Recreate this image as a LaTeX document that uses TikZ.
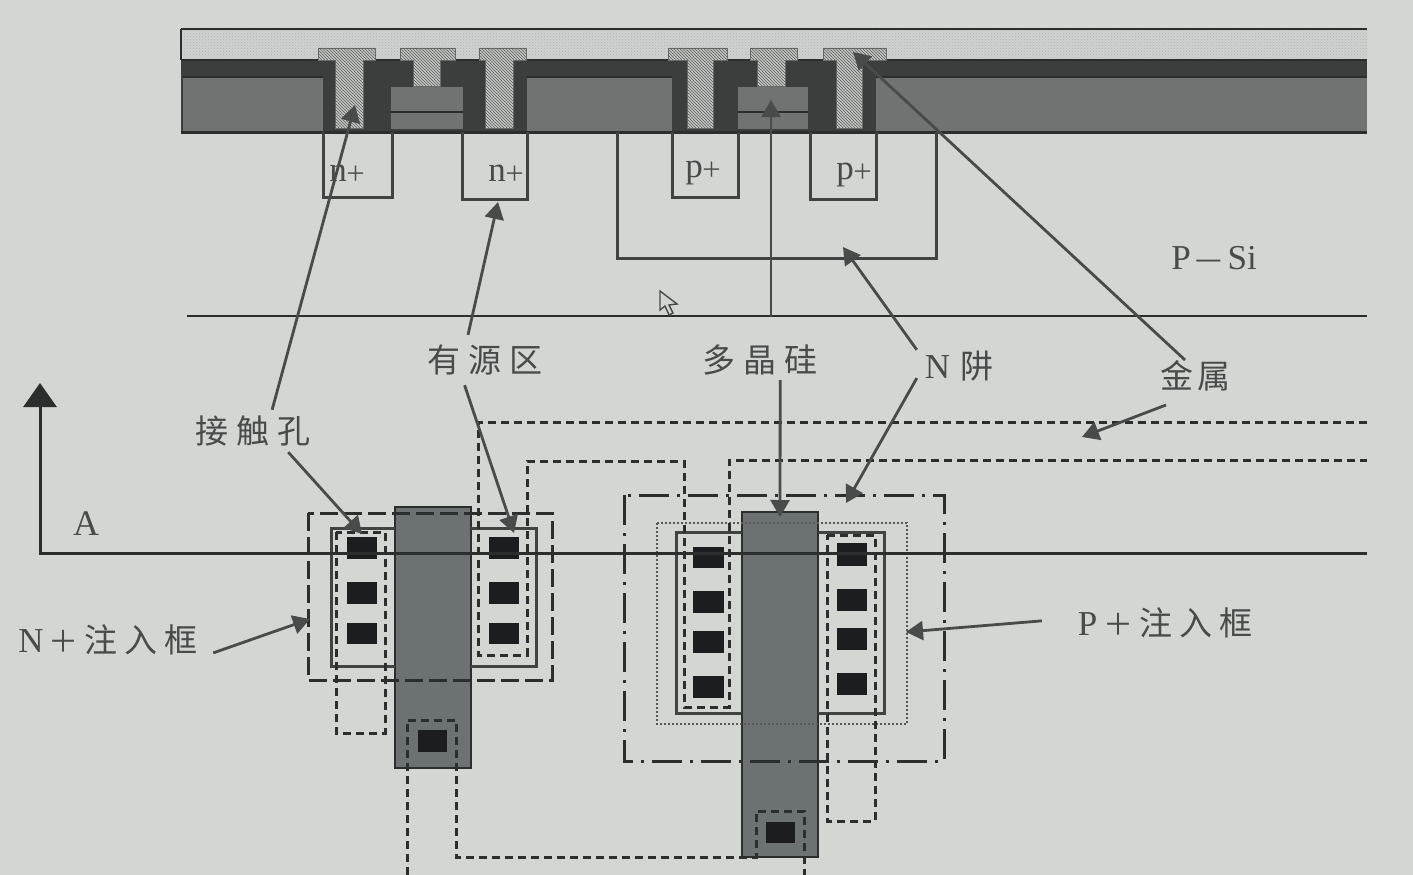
\documentclass[tikz,border=0pt]{standalone}
\usepackage{fontspec}
\setmainfont{Liberation Serif}
\newfontfamily\cjk{Noto Sans CJK SC}
\usepackage{tikz}
\usetikzlibrary{arrows.meta,patterns}
\definecolor{paper}{HTML}{D2D7D4}
\definecolor{ink}{HTML}{2A2E2D}
\definecolor{oxide}{HTML}{3A3F3E}
\definecolor{field}{HTML}{6F7473}
\definecolor{gatepoly}{HTML}{6C7171}
\definecolor{toplayer}{HTML}{CFD2D0}
\definecolor{metal}{HTML}{C6C9C6}
\definecolor{contact}{HTML}{1B1D1E}
\definecolor{labelgray}{HTML}{474B4A}
\newcommand{\hanzi}[1]{{\cjk\fontsize{33}{33}\selectfont #1}}
\newcommand{\latin}[1]{{\fontsize{35}{35}\selectfont #1}}
\newcommand{\wideplus}{{\cjk\fontsize{30}{30}\selectfont ＋}}
\newcommand{\smallplus}{{\cjk\fontsize{21}{21}\selectfont ＋}}

\begin{document}
\begin{tikzpicture}[x=1pt, y=-1pt, >={Triangle[length=17pt,width=19pt]}, line join=miter]
\tikzstyle{lbl}=[text=labelgray, inner sep=0pt, anchor=center]
\tikzstyle{sect}=[draw=ink, line width=2.6pt]
\tikzstyle{wellbox}=[draw=ink!90, line width=3pt]
\tikzstyle{pointer}=[draw=labelgray, line width=2.8pt, ->]
\tikzstyle{plug}=[fill=metal, draw=ink!70, line width=0.8pt, postaction={pattern=north west lines, pattern color=ink!80}]
\tikzstyle{hole}=[fill=contact]
\tikzstyle{activeframe}=[draw=ink, line width=3pt, dash pattern=on 8pt off 5pt]
\tikzstyle{nframe}=[draw=ink, line width=3pt, dash pattern=on 18pt off 6pt]
\tikzstyle{wellframe}=[draw=ink, line width=3pt, dash pattern=on 30pt off 8pt on 3pt off 8pt]
\tikzstyle{pframe}=[draw=ink!80, line width=2pt, dash pattern=on 2pt off 2pt]

\fill[paper] (0,0) rectangle (1413,875);
\useasboundingbox (0,0) rectangle (1413,875);

\path[fill=toplayer, postaction={pattern=crosshatch dots, pattern color=ink!35}] (181,29) rectangle (1367,60);
\draw[sect] (181,29) -- (1367,29);
\draw[sect] (181,29) -- (181,60);
\fill[oxide] (181,60) rectangle (1367,132);
\fill[field] (183,77) rectangle (323,131);
\fill[field] (527,77) rectangle (672,131);
\fill[field] (876,77) rectangle (1367,131);
\draw[draw=ink, line width=3pt] (181,132) -- (1367,132);
\draw[draw=ink, line width=2.6pt] (181,60) -- (1367,60);
\draw[draw=ink, line width=2.6pt] (183,77) -- (323,77);
\draw[draw=ink, line width=2.6pt] (527,77) -- (672,77);
\draw[draw=ink, line width=2.6pt] (876,77) -- (1367,77);

\foreach \x/\w/\y/\z in {391/463/87/129, 738/808/87/129}
    \fill[field] (\x,\y) rectangle (\w,\z);
\draw[ink, line width=2.6pt] (391,112) -- (463,112);
\draw[ink, line width=2.6pt] (738,112) -- (808,112);

\foreach \a/\b/\c/\d/\e in {318/375/335/363/128, 400/455/413/440/86, 479/526/485/513/128, 668/727/687/713/128, 750/797/757/785/86, 823/886/836/862/128}
    \path[plug] (\a,48) -- (\b,48) -- (\b,60) -- (\d,60) -- (\d,\e) -- (\c,\e) -- (\c,60) -- (\a,60) -- cycle;

\draw[wellbox] (323,132) -- (323,197) -- (392,197) -- (392,132);
\draw[wellbox] (462,132) -- (462,199) -- (527,199) -- (527,132);
\draw[wellbox] (672,132) -- (672,197) -- (738,197) -- (738,132);
\draw[wellbox] (810,132) -- (810,199) -- (876,199) -- (876,132);
\draw[wellbox] (617,132) -- (617,258) -- (936,258) -- (936,132);

\node[lbl] (nleft)  at (348,173) {\latin{n\kern-1pt\smallplus}};
\node[lbl] (nright) at (507,173) {\latin{n\kern-1pt\smallplus}};
\node[lbl] (pleft)  at (704,173) {\latin{p\kern-1pt\smallplus}};
\node[lbl] (pright) at (855,175) {\latin{p\kern-1pt\smallplus}};
\node[lbl] (psi)    at (1214,258) {\latin{P\kern5pt{\cjk\fontsize{30}{30}\selectfont —}\kern5pt Si}};

\draw[ink, line width=2.8pt] (187,316) -- (1367,316);
\draw[labelgray, line width=1.4pt] (660,291) -- (660,310) -- (665,306) -- (669,315) -- (673,313) -- (669,305) -- (677,304) -- cycle;

\fill[gatepoly] (395,507) rectangle (471,768);
\draw[ink, line width=2pt] (395,507) rectangle (471,768);
\fill[gatepoly] (742,512) rectangle (818,857);
\draw[ink, line width=2pt] (742,512) rectangle (818,857);

\draw[wellbox] (395,528) -- (331,528) -- (331,666) -- (395,666);
\draw[wellbox] (471,528) -- (536,528) -- (536,666) -- (471,666);
\draw[wellbox] (742,532) -- (676,532) -- (676,713) -- (742,713);
\draw[wellbox] (818,532) -- (884,532) -- (884,713) -- (818,713);

\draw[nframe] (308,513) rectangle (552,680);
\draw[wellframe] (624,495) rectangle (944,761);
\draw[pframe] (657,523) rectangle (907,724);

\draw[activeframe] (336,532) -- (336,733) -- (385,733) -- (385,532) -- cycle;
\draw[activeframe] (1367,422) -- (478,422) -- (478,655) -- (527,655) -- (527,461) -- (684,461) -- (684,707) -- (729,707) -- (729,460) -- (1367,460);
\draw[activeframe] (827,535) -- (875,535) -- (875,821) -- (827,821) -- cycle;
\draw[activeframe] (407,875) -- (407,720) -- (456,720) -- (456,857) -- (756,857) -- (756,811) -- (804,811) -- (804,875);

\foreach \y/\z in {537/559, 582/604, 623/644} {
    \fill[hole] (347,\y) rectangle (377,\z);
    \fill[hole] (489,\y) rectangle (519,\z);
}
\foreach \y/\z in {547/568, 591/613, 631/653, 676/698}
    \fill[hole] (693,\y) rectangle (724,\z);
\foreach \y/\z in {543/566, 589/611, 628/650, 673/695}
    \fill[hole] (837,\y) rectangle (867,\z);
\fill[hole] (418,730) rectangle (447,752);
\fill[hole] (766,822) rectangle (795,843);

\coordinate (sectend) at (1367,553);
\coordinate (sectcorner) at (40,553);
\coordinate (secttop) at (40,383);
\draw[draw=ink, line width=3pt, -{Triangle[length=24pt,width=33pt]}] (sectend) -- (sectcorner) -- (secttop);
\node[lbl] (sectA) at (86,524) {{\fontsize{36}{36}\selectfont A}};

\node[lbl, minimum width=116pt, minimum height=42pt] (lblhole)   at (253,431) {\hanzi{接\hspace{8pt}触\hspace{8pt}孔}};
\node[lbl, minimum width=116pt, minimum height=50pt] (lblactive) at (485,360) {\hanzi{有\hspace{8pt}源\hspace{8pt}区}};
\node[lbl, minimum width=116pt, minimum height=40pt] (lblpoly)   at (760,360) {\hanzi{多\hspace{8pt}晶\hspace{8pt}硅}};
\node[lbl, minimum width=84pt, minimum height=36pt]  (lblwell)   at (959,366) {{\latin{N}}\hspace{10pt}\hanzi{阱}};
\node[lbl, minimum width=74pt, minimum height=34pt]  (lblmetal)  at (1195,376) {\hanzi{金\hspace{4pt}属}};
\node[lbl, minimum width=210pt, minimum height=32pt] (lblnplus)  at (108,640) {{\latin{N}}\kern5pt\wideplus\kern6pt\hanzi{注\hspace{7pt}入\hspace{7pt}框}};
\node[lbl, minimum width=246pt, minimum height=32pt] (lblpplus)  at (1165,623) {{\latin{P}}\kern6pt\wideplus\kern6pt\hanzi{注\hspace{7pt}入\hspace{7pt}框}};

\coordinate (hitplug)   at (355,105);
\coordinate (hithole)   at (362,534);
\coordinate (hitnplus)  at (498,202);
\coordinate (hitactive) at (514,533);
\coordinate (polystart) at (771,317);
\coordinate (hitpoly)   at (771,100);
\coordinate (hitgate)   at (780,517);
\coordinate (hitwell)   at (843,247);
\coordinate (hitwellb)  at (846,503);
\coordinate (metalstart) at (1185,360);
\coordinate (hitmetal)  at (853,52);
\coordinate (metalfree) at (1166,405);
\coordinate (hitmetalb) at (1082,437);
\coordinate (hitnframe) at (310,619);
\coordinate (hitpframe) at (906,632);

\path
(lblhole.48)    edge[pointer] (hitplug)
(lblhole.-31)   edge[pointer] (hithole)
(lblactive.124) edge[pointer] (hitnplus)
(lblactive.231) edge[pointer] (hitactive)
(polystart)     edge[pointer] (hitpoly)
(lblpoly.-45)   edge[pointer] (hitgate)
(lblwell.159)   edge[pointer] (hitwell)
(lblwell.196)   edge[pointer] (hitwellb)
(metalstart)    edge[pointer] (hitmetal)
(metalfree)     edge[pointer] (hitmetalb)
(lblnplus.-7)   edge[pointer] (hitnframe)
(lblpplus.179)  edge[pointer] (hitpframe)
;
\end{tikzpicture}
\end{document}
